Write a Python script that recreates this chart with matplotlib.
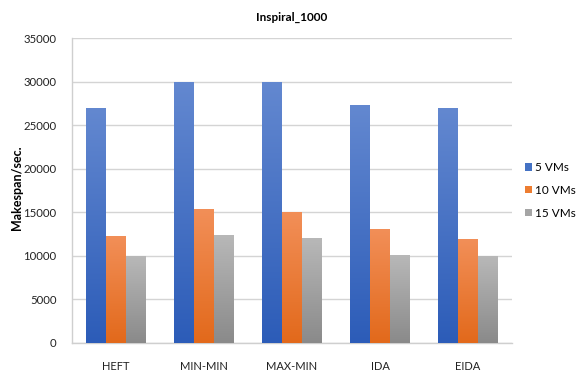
import numpy as np
import matplotlib
matplotlib.use("Agg")
import matplotlib.pyplot as plt
from matplotlib.colors import LinearSegmentedColormap

plt.rcParams['font.family'] = ['Lato', 'DejaVu Sans']

algorithms = ["HEFT", "MIN-MIN", "MAX-MIN", "IDA", "EIDA"]
series_names = ["5 VMs", "10 VMs", "15 VMs"]
vm5 = [27000, 30000, 30000, 27300, 26950]
vm10 = [12200, 15300, 15000, 13000, 11900]
vm15 = [9900, 12300, 12000, 10100, 9900]
y_ticks = [0, 5000, 10000, 15000, 20000, 25000, 30000, 35000]

# (top colour, bottom colour, legend colour) for each series
palette = [("#6388d0", "#2c5cb8", "#4472c4"),
           ("#f28f58", "#e2691b", "#ed7d31"),
           ("#b8b8b8", "#8a8a8a", "#a5a5a5")]

fig = plt.figure(figsize=(5.84, 3.79), dpi=100)
ax = fig.add_axes([0.1233, 0.0963, 0.7534, 0.8034])

x = np.arange(len(algorithms))
width = 0.224
values = [vm5, vm10, vm15]
handles = []
for i, (vals, (top, bot, flat)) in enumerate(zip(values, palette)):
    offs = (i - 1) * width
    bars = ax.bar(x + offs, vals, width, color=flat, zorder=3, label=series_names[i])
    cmap = LinearSegmentedColormap.from_list("g%d" % i, [bot, top])
    for b in bars:
        bx, by = b.get_x(), b.get_y()
        bw, bh = b.get_width(), b.get_height()
        grad = np.linspace(0, 1, 256).reshape(-1, 1)
        im = ax.imshow(grad, cmap=cmap, origin="lower", aspect="auto",
                       extent=[bx, bx + bw, by, by + bh], zorder=4)
        im.set_clip_path(b)
    handles.append(bars)

ax.set_xlim(-0.5, len(algorithms) - 0.5)
ax.set_ylim(0, 35000)
ax.set_yticks(y_ticks)
ax.set_yticklabels([str(v) for v in y_ticks], fontsize=8.2, color="#222222")
ax.set_xticks(x)
ax.set_xticklabels(algorithms, fontsize=8, color="#222222")
ax.tick_params(axis="y", length=0, pad=11)
ax.tick_params(axis="x", length=0, pad=13)
ax.grid(axis="y", color="#d4d4d4", linewidth=1.0, zorder=0)
ax.set_axisbelow(True)
for s in ["top", "right"]:
    ax.spines[s].set_visible(False)
for s in ["left", "bottom"]:
    ax.spines[s].set_color("#cfcfcf")
    ax.spines[s].set_linewidth(1.0)

ax.set_title("Inspiral_1000", fontsize=8.5, fontweight="bold", pad=12)
ax.set_ylabel("Makespan/sec.", fontsize=9, fontweight="bold")
ax.yaxis.set_label_coords(-0.112, 0.51)

leg = ax.legend(handles=handles, loc="center left", bbox_to_anchor=(1.005, 0.5),
                frameon=False, fontsize=8.5, handlelength=0.6, handleheight=0.6,
                handletextpad=0.3, labelspacing=1.0)

fig.savefig("out.png", dpi=100)
